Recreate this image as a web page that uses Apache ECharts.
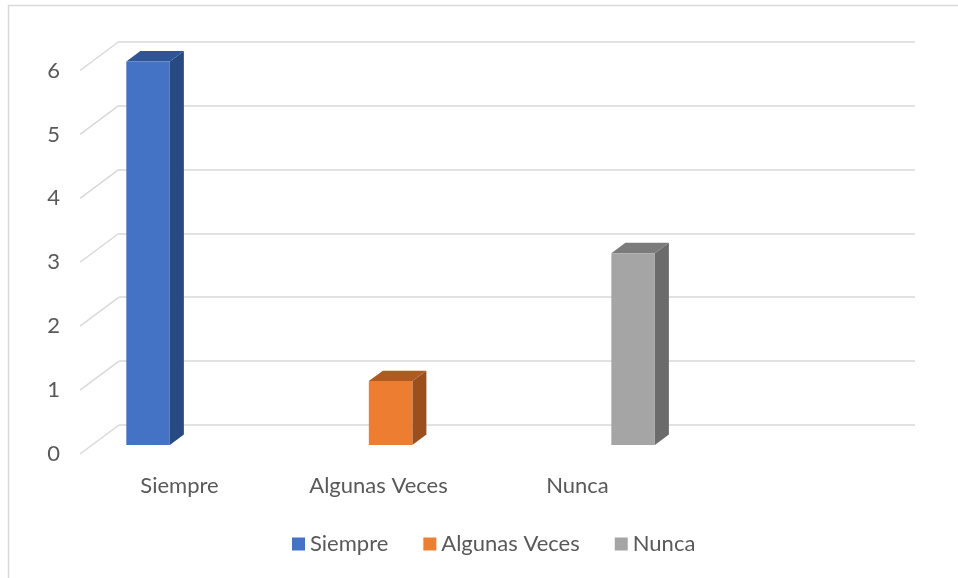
<!DOCTYPE html>
<html>
<head>
<meta charset="utf-8">
<script src="https://cdn.jsdelivr.net/npm/echarts@6/dist/echarts.min.js"></script>
<style>
html,body{margin:0;padding:0;background:#fff;}
#chart{width:958px;height:578px;}
</style>
</head>
<body>
<div id="chart"></div>
<script>
// ---- data ----
var categories = ['Siempre', 'Algunas Veces', 'Nunca', ''];
var seriesNames = ['Siempre', 'Algunas Veces', 'Nunca'];
var siempreValues = [6, null, null, null];
var algunasValues = [null, 1, null, null];
var nuncaValues = [null, null, 3, null];
var yTicks = [0, 1, 2, 3, 4, 5, 6];

var seriesValues = [siempreValues, algunasValues, nuncaValues];
var faceColors = [
  {front: '#4472C4', top: '#2F5597', side: '#284A83'},
  {front: '#ED7D31', top: '#AE5A21', side: '#9A4F1D'},
  {front: '#A5A5A5', top: '#7B7B7B', side: '#6B6B6B'}
];

var FONT = 'Lato';
var DEPTH = [-39, 29];       // back plane -> front plane
var FRONT_F = 0.69, BACK_F = 0.33;
var GAP_F = 0.172;

var chart = echarts.init(document.getElementById('chart'), null, {renderer: 'canvas'});

function barRenderer(si) {
  return function (params, api) {
    var idx = api.value(0), val = api.value(1);
    var catW = api.size([1, 0])[0];
    var c = api.coord([idx, 0]);
    var top = api.coord([idx, val])[1];
    var y0 = c[1];
    var g = catW * GAP_F;
    var w = (catW - 2 * g) / 3;
    var xl = c[0] - catW / 2 + g + si * w;
    var fx = DEPTH[0] * FRONT_F, fy = DEPTH[1] * FRONT_F;
    var bx = DEPTH[0] * BACK_F, by = DEPTH[1] * BACK_F;
    var L = xl + fx, R = xl + w + fx, T = top + fy, B = y0 + fy;
    var L2 = xl + bx, R2 = xl + w + bx, T2 = top + by, B2 = y0 + by;
    var col = faceColors[si];
    return {
      type: 'group',
      children: [
        {type: 'polygon', shape: {points: [[R, T], [R2, T2], [R2, B2], [R, B]]}, style: {fill: col.side}},
        {type: 'polygon', shape: {points: [[L, T], [L2, T2], [R2, T2], [R, T]]}, style: {fill: col.top}},
        {type: 'rect', shape: {x: L, y: T, width: R - L, height: B - T}, style: {fill: col.front}}
      ]
    };
  };
}

var series = [];
seriesNames.forEach(function (name, si) {
  var data = [];
  seriesValues[si].forEach(function (v, i) { if (v != null) data.push([i, v]); });
  series.push({
    name: name,
    type: 'custom',
    xAxisIndex: 0, yAxisIndex: 0,
    itemStyle: {color: faceColors[si].front},
    renderItem: barRenderer(si),
    data: data,
    z: 5
  });
});

// diagonal parts of the gridlines (front plane -> back plane)
series.push({
  type: 'custom',
  xAxisIndex: 1, yAxisIndex: 1,
  silent: true,
  renderItem: function (params, api) {
    var y = api.coord([0, api.value(0)])[1];
    var x = params.coordSys.x;
    return {type: 'line', shape: {x1: x, y1: y, x2: x - DEPTH[0], y2: y - DEPTH[1]},
      style: {stroke: '#D9D9D9', lineWidth: 1.5}};
  },
  data: yTicks.map(function (t) { return [t]; }),
  encode: {y: 0},
  z: 1
});

chart.setOption({
  animation: false,
  backgroundColor: '#fff',
  textStyle: {fontFamily: FONT},
  graphic: [{
    type: 'rect', shape: {x: 8.5, y: 5.5, width: 1000, height: 1000},
    style: {fill: null, stroke: '#D9D9D9', lineWidth: 1.5}, z: -1, silent: true
  }],
  legend: {
    data: seriesNames,
    left: 287, top: 528,
    icon: 'rect', itemWidth: 13, itemHeight: 13, itemGap: 35,
    textStyle: {fontFamily: FONT, fontSize: 22, color: '#595959'}
  },
  grid: [
    {left: 119, top: 41.5, width: 796, height: 383.5},
    {left: 80, top: 70.5, width: 796, height: 383.5}
  ],
  xAxis: [
    {type: 'category', gridIndex: 0, data: categories, show: false},
    {type: 'category', gridIndex: 1, data: categories,
      axisLine: {show: false}, axisTick: {show: false},
      axisLabel: {fontFamily: FONT, fontSize: 22, color: '#595959', margin: 21}}
  ],
  yAxis: [
    {type: 'value', gridIndex: 0, min: 0, max: 6, interval: 1,
      axisLabel: {show: false}, axisLine: {show: false}, axisTick: {show: false},
      splitLine: {lineStyle: {color: '#D9D9D9', width: 1.5}}},
    {type: 'value', gridIndex: 1, min: 0, max: 6, interval: 1,
      axisLine: {show: false}, axisTick: {show: false}, splitLine: {show: false},
      axisLabel: {fontFamily: FONT, fontSize: 22, color: '#595959', margin: 20}}
  ],
  series: series
});
</script>
</body>
</html>
